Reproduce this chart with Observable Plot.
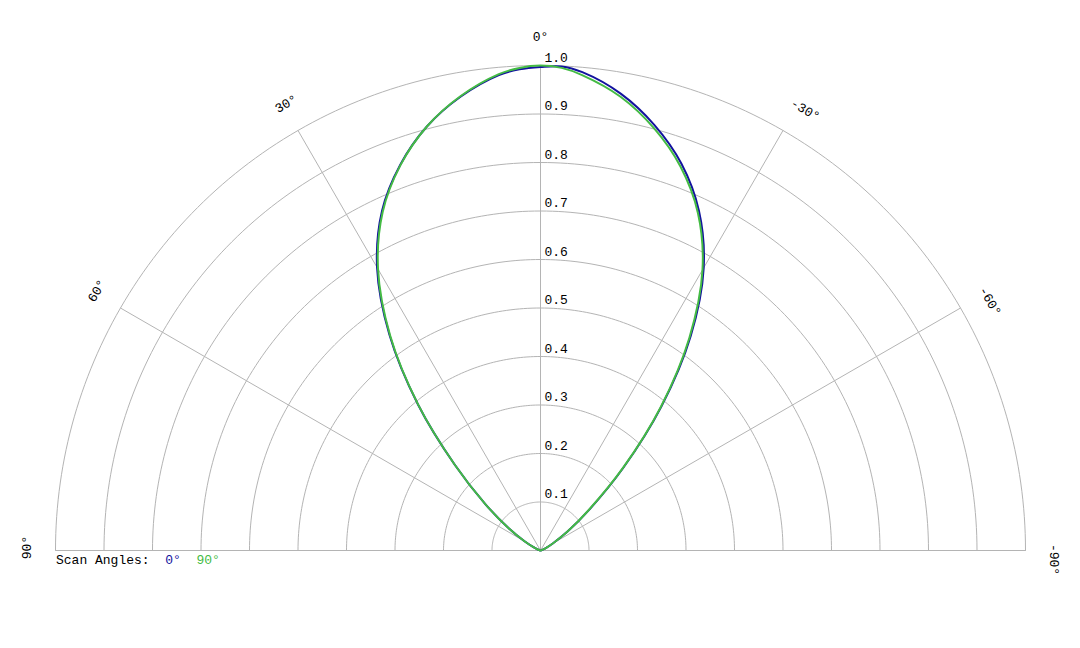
<!DOCTYPE html>
<html><head><meta charset="utf-8">
<script src="https://cdn.jsdelivr.net/npm/d3@7"></script>
<script src="https://cdn.jsdelivr.net/npm/@observablehq/plot@0.6"></script>
<style>
body{margin:0;background:#fff}
#wrap{position:relative;width:1080px;height:648px}
#legend{position:absolute;left:56px;top:554px;font-family:'Liberation Mono','Courier New',monospace;font-size:13px;line-height:13px;white-space:pre;color:#000}
</style>
</head><body><div id="wrap"><div id="legend"></div></div>
<script>
// Angles in degrees (positive = left of 0°)
const angles = [-90,-80,-70,-65,-60,-55,-50,-45,-40,-35,-30,-25,-20,-15,-10,-5,-2.5,0,2.5,5,10,15,20,25,30,35,40,45,50,55,60,65,70,80,90];
// Scan angle 0° (blue)
const scan0 = [0,0.001,0.005,0.013,0.03,0.068,0.132,0.242,0.388,0.54,0.673,0.773,0.849,0.908,0.956,0.99,0.999,0.997,0.993,0.984,0.95,0.905,0.846,0.773,0.674,0.543,0.393,0.25,0.148,0.08,0.038,0.016,0.006,0.001,0];
// Scan angle 90° (green)
const scan90 = [0,0.001,0.005,0.013,0.03,0.068,0.13,0.24,0.385,0.535,0.668,0.768,0.843,0.902,0.95,0.984,0.996,1.0,0.996,0.986,0.951,0.905,0.845,0.77,0.67,0.54,0.392,0.25,0.148,0.08,0.038,0.016,0.006,0.001,0];

const radii = [0.1,0.2,0.3,0.4,0.5,0.6,0.7,0.8,0.9,1.0];
const spokeAngles = [-90,-60,-30,0,30,60,90];
const seriesNames = ["0°","90°"];
const seriesColors = ["#12129e","#44bb44"];

const rad = d => d * Math.PI / 180;
const px = (a, r) => -r * Math.sin(rad(a));
const py = (a, r) => r * Math.cos(rad(a));
const pxPerUnit = 485;
// shift label along its reading direction (pixels)
const shift = a => a < 0 ? 9 : (a > 0 ? 3 : 0);
const lx = a => px(a, 1.06) + Math.cos(rad(-a)) * shift(a) / pxPerUnit;
const ly = a => py(a, 1.06) - Math.sin(rad(-a)) * shift(a) / pxPerUnit;

const series = [
  angles.map((a, i) => ({a, r: scan0[i], s: seriesNames[0]})),
  angles.map((a, i) => ({a, r: scan90[i], s: seriesNames[1]}))
];

const gridPts = radii.flatMap(r => d3.range(-90, 90.5, 1).map(a => ({a, r})));

const font = "'Liberation Mono','Courier New',monospace";

const chart = Plot.plot({
  width: 1080,
  height: 648,
  marginLeft: 55,
  marginRight: 55,
  marginTop: 65,
  marginBottom: 98,
  x: {domain: [-1, 1], axis: null},
  y: {domain: [0, 1], axis: null},
  style: {fontFamily: font, fontSize: "13px", background: "#fff"},
  marks: [
    Plot.line(gridPts, {x: d => px(d.a, d.r), y: d => py(d.a, d.r), z: "r", stroke: "#b4b4b4", strokeWidth: 1}),
    Plot.link(spokeAngles, {x1: () => 0, y1: () => 0, x2: a => px(a, 1), y2: a => py(a, 1), stroke: "#b4b4b4", strokeWidth: 1}),
    Plot.text(radii, {x: () => 0, y: r => r, text: r => r.toFixed(1), textAnchor: "start", dx: 4, dy: -8, fill: "#000", fontSize: 13}),
    Plot.text(spokeAngles, {x: lx, y: ly, text: a => a + "°", rotate: a => -a, fill: "#000", fontSize: 13}),
    ...series.map((s, i) => Plot.line(s, {x: d => px(d.a, d.r), y: d => py(d.a, d.r), stroke: seriesColors[i], strokeWidth: 2, curve: "catmull-rom"}))
  ]
});
document.getElementById("wrap").prepend(chart);

const leg = document.getElementById("legend");
leg.innerHTML = 'Scan Angles:  ' + seriesNames.map((n, i) => `<span style="color:${seriesColors[i]}">${n}</span>`).join('  ');
</script>
</body></html>
